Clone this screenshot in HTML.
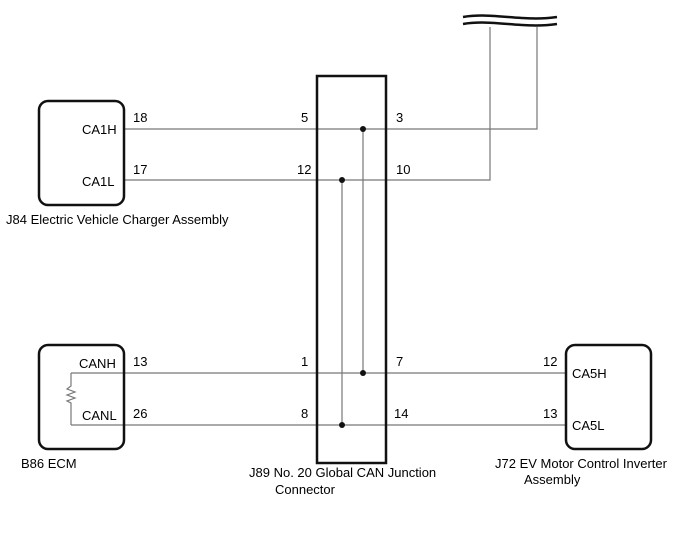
<!DOCTYPE html>
<html><head><style>body{margin:0;background:#fff}svg{display:block}text{font-family:"Liberation Sans",Arial,sans-serif;font-size:13px;fill:#000}</style></head>
<body>
<svg width="688" height="560" viewBox="0 0 688 560" xmlns="http://www.w3.org/2000/svg">
<g stroke="#777" stroke-width="1.2" fill="none">
<path d="M124 129H537V27"/>
<path d="M124 180H490V27"/>
<path d="M71 373H566"/>
<path d="M71 425H566"/>
<path d="M71 373V386l-4 3 8 3-8 3 8 3-8 3 4 2V425"/>
<path d="M363 129V373"/>
<path d="M342 180V425"/>
</g>
<g stroke="#111" stroke-width="2.5" fill="none">
<path d="M463 17c30-5 60 5 94 0"/>
<path d="M463 24c30-5 60 5 94 0"/>
<rect x="39" y="101" width="85" height="104" rx="9"/>
<rect x="39" y="345" width="85" height="104" rx="9"/>
<rect x="566" y="345" width="85" height="104" rx="9"/>
<rect x="317" y="76" width="69" height="387"/>
</g>
<g fill="#111">
<circle cx="363" cy="129" r="3"/><circle cx="342" cy="180" r="3"/>
<circle cx="363" cy="373" r="3"/><circle cx="342" cy="425" r="3"/>
</g>
<text x="82" y="134">CA1H</text><text x="82" y="186">CA1L</text>
<text x="133" y="122">18</text><text x="133" y="174">17</text>
<text x="301" y="122">5</text><text x="297" y="174">12</text>
<text x="396" y="122">3</text><text x="396" y="174">10</text>
<text x="6" y="224">J84  Electric Vehicle Charger Assembly</text>
<text x="79" y="368">CANH</text><text x="82" y="420">CANL</text>
<text x="133" y="366">13</text><text x="133" y="418">26</text>
<text x="301" y="366">1</text><text x="301" y="418">8</text>
<text x="396" y="366">7</text><text x="394" y="418">14</text>
<text x="543" y="366">12</text><text x="543" y="418">13</text>
<text x="572" y="378">CA5H</text><text x="572" y="430">CA5L</text>
<text x="21" y="468">B86  ECM</text>
<text x="249" y="477">J89  No. 20 Global CAN Junction</text>
<text x="275" y="494">Connector</text>
<text x="495" y="468">J72  EV Motor Control Inverter</text>
<text x="524" y="484">Assembly</text>
</svg>
</body></html>
